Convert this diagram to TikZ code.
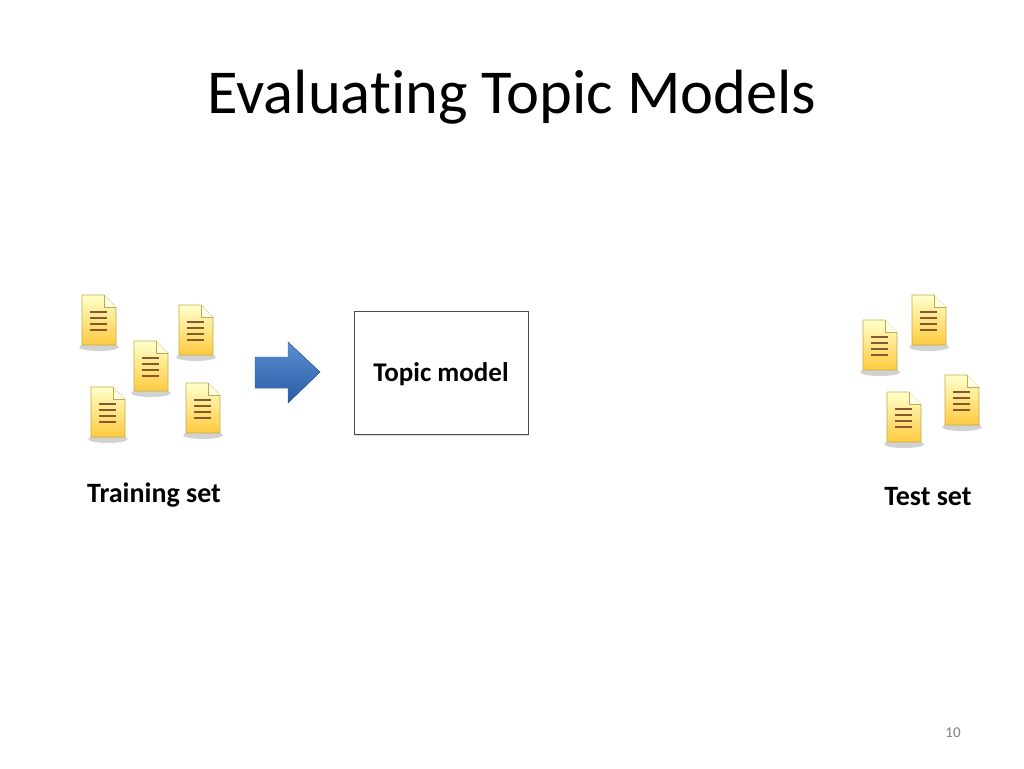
\documentclass[tikz,border=0pt]{standalone}
\usepackage{fontspec}
\setmainfont[Ligatures=NoCommon]{Carlito}
\usetikzlibrary{shadows}
\definecolor{arrtop}{HTML}{5B8FD0}
\definecolor{arrbot}{HTML}{2A5BA6}
\begin{document}
\begin{tikzpicture}[x=1pt,y=-1pt,
  doc/.pic={
    \fill[black!35,opacity=0.5] (0,27) ellipse (20 and 4);
    \draw[draw=yellow!60!brown!80!black,line width=0.6pt,top color=yellow!20!white,bottom color=orange!55!yellow!75!white,shading angle=0]
      (-17,-25) -- (5,-25) -- (17,-13) -- (17,25) -- (-17,25) -- cycle;
    \draw[draw=yellow!60!brown!80!black,line width=0.6pt,fill=yellow!8!white] (5,-25) -- (5,-13) -- (17,-13);
    \foreach \yy in {-8,-2,4,10} \draw[line width=1.2pt,brown!70!black] (-9,\yy) -- (8,\yy);
  },
  lbl/.style={font=\fontsize{28}{32}\selectfont\bfseries}]
\useasboundingbox (0,0) rectangle (1024,768);
\node (title) at (512,97) {\fontsize{62.5}{68}\selectfont Evaluating Topic Models};
\foreach \n/\x/\y in {a/99/320,b/196/330,c/151/366,d/108/412,e/203/408,f/880/345,g/929/320,h/904/417,i/962/400}
  \pic (\n) at (\x,\y) {doc};
\fill[top color=arrtop, bottom color=arrbot,draw=arrbot]
  (255,357) -- (288,357) -- (288,342) -- (320,372) -- (288,403) -- (288,388) -- (255,388) -- cycle;
\node[draw=black!70,fill=white,minimum width=174,minimum height=123,drop shadow={shadow xshift=1pt,shadow yshift=-2pt,opacity=0.3}] (model) at (441,372.5) {};
\node[font=\fontsize{27}{30}\selectfont\bfseries] (mt) at (441,374) {Topic model};
\node[lbl] (train) at (154,495) {Training set};
\node[lbl] (test) at (928,497) {Test set};
\node[text=black!50,font=\fontsize{15}{18}\selectfont] (pg) at (953,733) {10};
\end{tikzpicture}
\end{document}
